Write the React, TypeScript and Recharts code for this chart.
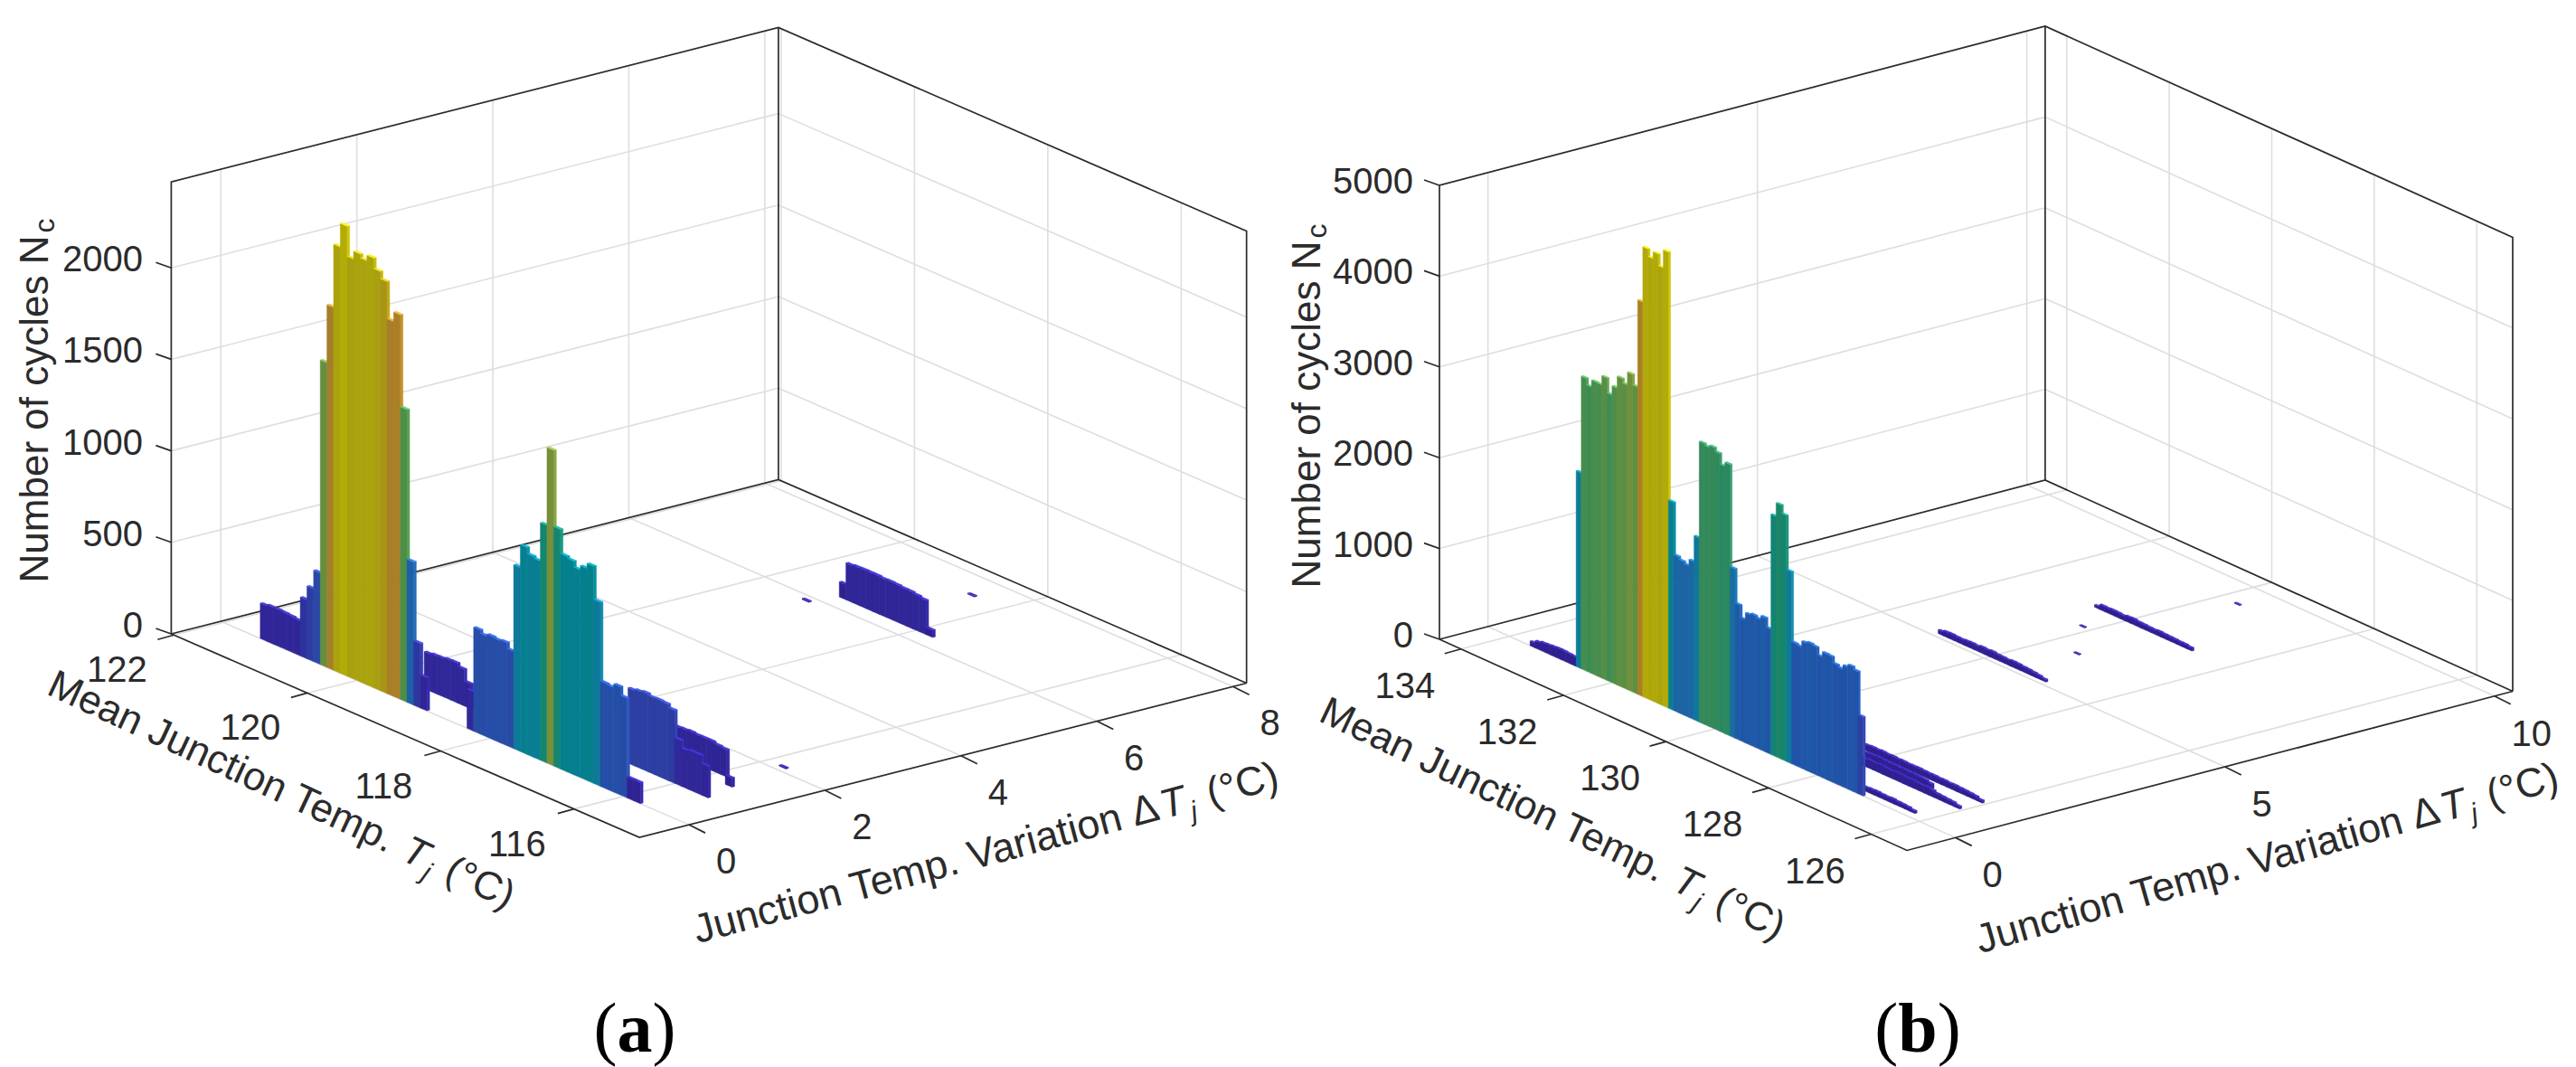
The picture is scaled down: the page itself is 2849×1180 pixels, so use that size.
import { Scatter, ScatterChart, XAxis, YAxis } from "recharts";

// ---- values: cycle counts per 0.1 degC bin, one list per row ----
const aFrontLeft = [193, 200, 200, 198, 195, 190, 321, 397, 499, 1664, 1982, 2328, 2458, 2294, 2337, 2316, 2347, 2290, 2250, 2048, 2100, 1598, 781, 352, 180];
const aFrontRight = [214, 568, 550, 562, 557, 562, 530, 1005, 1130, 1097, 1087, 1298, 1725, 1308, 1176, 1166, 1133, 1158, 1186, 1005, 575, 570, 591, 544, 115, 115];
const aRowB = [202, 208, 210, 216, 217, 200, 136];
const aRowC = [412, 420, 427, 418, 420, 417, 399, 250, 209, 216, 216, 173];
const aRowD = [158, 160, 163, 160, 161, 161, 153, 148];
const aBack = [83, 202, 206, 208, 208, 208, 204, 206, 204, 200, 200, 194, 187, 40];

const bFrontLeft = [50, 80, 95, 100, 105, 110, 110, 105, 100];
const bFront = [2156, 3223, 3152, 3230, 3226, 3329, 3166, 3269, 3400, 3354, 3497, 3383, 4343, 4955, 4873, 4951, 4823, 5023, 2291, 1718, 1690, 1668, 1739, 2027, 3091, 3073, 3098, 3059, 2942, 2988, 1864, 1490, 1355, 1433, 1451, 1433, 1476, 1377, 2646, 2796, 2707, 2113, 1345, 1334, 1401, 1419, 1409, 1327, 1384, 1380, 1316, 1295, 1341, 1373, 1345, 870];
const bStrip1 = [48, 52, 55, 50, 48, 52, 46, 44, 40, 28];
const bStrip2 = [90, 92, 88, 95, 90, 86, 92, 90, 85, 88, 82, 80, 84, 76, 58, 54, 50, 46, 30];
const bStrip3 = [68, 72, 70, 75, 70, 72, 68, 70, 66, 68, 70, 66, 64, 66, 62, 64, 60, 62, 58, 56, 52, 46, 28];
const bStrip4 = [80, 82, 86, 84, 80, 82, 78, 80, 76, 78, 74, 70, 55];
const bStrip5 = [42, 58, 60, 56, 54, 60, 64, 58, 70, 66, 72, 64, 62, 58, 66, 64, 56, 54, 48, 40, 26];
const bStrip6 = [26, 56, 54, 58, 56, 50, 62, 64, 56, 54, 50, 48, 54, 50, 48, 46, 42, 42, 34];

type Row = { dT: number; tmStart: number; counts: number[] };

const aRows: Row[] = [
  { dT: 0, tmStart: 121.4, counts: aFrontLeft },
  { dT: 0, tmStart: 118.3, counts: aFrontRight },
  { dT: 0.45, tmStart: 119.4, counts: aRowB },
  { dT: 0.75, tmStart: 116.65, counts: aRowC },
  { dT: 1.37, tmStart: 116.6, counts: aRowD },
  { dT: 1.2, tmStart: 115.65, counts: [50] },
  { dT: 6.26, tmStart: 119.1, counts: aBack },
  { dT: 5.86, tmStart: 119.25, counts: [6] },
  { dT: 2.09, tmStart: 115.75, counts: [6] },
  { dT: 7.51, tmStart: 118.45, counts: [6] },
];

const bRows: Row[] = [
  { dT: 0, tmStart: 133.55, counts: bFrontLeft },
  { dT: 0, tmStart: 132.65, counts: bFront },
  { dT: 0.15, tmStart: 127.2, counts: bStrip1 },
  { dT: 0.79, tmStart: 127.9, counts: bStrip2 },
  { dT: 1.21, tmStart: 128.3, counts: bStrip3 },
  { dT: 0.99, tmStart: 128.05, counts: bStrip4 },
  { dT: 5.1, tmStart: 130.95, counts: bStrip5 },
  { dT: 7.62, tmStart: 130.55, counts: bStrip6 },
  { dT: 6.96, tmStart: 130.15, counts: [8] },
  { dT: 6.19, tmStart: 129.45, counts: [8] },
  { dT: 9.36, tmStart: 129.65, counts: [8] },
];

const aTmTicks = [122, 120, 118, 116];
const aDtTicks = [0, 2, 4, 6, 8];
const aNcTicks = [0, 500, 1000, 1500, 2000];
const bTmTicks = [134, 132, 130, 128, 126];
const bDtTicks = [0, 5, 10];
const bNcTicks = [0, 1000, 2000, 3000, 4000, 5000];

// height colours as they look after the figure's lighting
const ramp: [number, string][] = [
  [0, "#2e1e8c"], [0.1, "#30289a"], [0.2, "#2a48a6"], [0.27, "#2055a8"], [0.36, "#1a6aa2"],
  [0.42, "#0c7c98"], [0.48, "#04808c"], [0.53, "#148570"], [0.61, "#33895a"], [0.65, "#4f8e48"],
  [0.7, "#76903a"], [0.78, "#a0802c"], [0.85, "#aa7e26"], [0.9, "#a88a1a"], [0.93, "#a8a010"], [1, "#b4ac06"],
];

const hexRgb = (h: string) => [1, 3, 5].map((i) => parseInt(h.slice(i, i + 2), 16));

function rampColor(f: number, gain = 1) {
  const t = Math.min(1, Math.max(0, f));
  let i = 0;
  while (i < ramp.length - 2 && t > ramp[i + 1][0]) i++;
  const [f0, c0] = ramp[i];
  const [f1, c1] = ramp[i + 1];
  const k = (t - f0) / (f1 - f0);
  const a = hexRgb(c0);
  const b = hexRgb(c1);
  const rgb = a.map((v, j) => Math.min(255, Math.round((v + (b[j] - v) * k) * gain)));
  return `rgb(${rgb.join(",")})`;
}

const FONT = '"Liberation Sans", Arial, sans-serif';
const INK = "#2b2b2b";
const GRID = "#dedede";
const BAR_W = 0.1;
const BAR_D = 0.04;

type Geo = {
  left: number; width: number;
  lx: number; ly: number;
  tmMax: number; tmMin: number; dtMin: number; dtMax: number; ncMax: number;
  tmX: number; tmY: number; dtX: number; dtY: number; kz: number;
  peak: number;
  zLabelX: number;
  zLabelDy: number;
  tmLabel: [number, number]; dtLabel: [number, number];
  ncTitle: [number, number];
  tmTitle: [number, number, number];
  dtTitle: [number, number, number];
  caption: [number, number]; mark: string;
};

const geoA: Geo = {
  left: 0, width: 1424, lx: 189.4, ly: 701,
  tmMax: 122.04, tmMin: 115.02, dtMin: -0.73, dtMax: 8.2, ncMax: 2470,
  tmX: 73.75, tmY: 32.06, dtX: 75.2, dtY: 19.1, kz: 0.2024, peak: 2460,
  zLabelX: 158, zLabelDy: -10, tmLabel: [-63, 38], dtLabel: [41, 40],
  ncTitle: [37, 443],
  tmTitle: [312, 872, 25], dtTitle: [1090, 942, -15],
  caption: [702, 1136], mark: "a",
};

const geoB: Geo = {
  left: 1380, width: 1469, lx: 1592, ly: 707,
  tmMax: 134.42, tmMin: 125.3, dtMin: -0.9, dtMax: 10.34, ncMax: 5000,
  tmX: 56.7, tmY: 25.6, dtX: 59.6, dtY: 15.66, kz: 0.1004, peak: 5050,
  zLabelX: 1563, zLabelDy: -5, tmLabel: [-62, 40], dtLabel: [41, 41],
  ncTitle: [1444, 449],
  tmTitle: [1718, 904, 25.5], dtTitle: [2507, 948, -15.9],
  caption: [2121, 1136], mark: "b",
};

function Panel({ geo, rows, tmTicks, dtTicks, ncTicks }: { geo: Geo; rows: Row[]; tmTicks: number[]; dtTicks: number[]; ncTicks: number[] }) {
  const project = (tm: number, dT: number, nc: number) => ({
    sx: geo.lx - geo.left + (geo.tmMax - tm) * geo.tmX + (dT - geo.dtMin) * geo.dtX,
    sy: geo.ly + (geo.tmMax - tm) * geo.tmY - (dT - geo.dtMin) * geo.dtY - nc * geo.kz,
  });
  const { tmMax, tmMin, dtMin, dtMax, ncMax } = geo;

  // bars, far ones first so the near ones paint over them
  const bars = rows
    .flatMap((row) =>
      row.counts.map((nc, i) => {
        const tm = row.tmStart - i * BAR_W;
        return { ...project(tm + BAR_W / 2, row.dT, nc), tm, dT: row.dT, nc };
      }),
    )
    .sort((p, q) => q.dT - p.dT || q.tm - p.tm);

  const BarShape = (p: any) => {
    const { cx, cy, payload } = p;
    const ux = geo.tmX * BAR_W;
    const uy = geo.tmY * BAR_W;
    const vx = geo.dtX * BAR_D;
    const vy = -geo.dtY * BAR_D;
    const h = payload.nc * geo.kz;
    const f = payload.nc / geo.peak;
    const face = rampColor(f);
    const side = rampColor(f, 1.15);
    const top = rampColor(f, 1.45);
    const poly = (pts: number[][]) => pts.map((q) => q.join(",")).join(" ");
    return (
      <g>
        <polygon points={poly([[cx + ux, cy + uy], [cx + ux + vx, cy + uy + vy], [cx + ux + vx, cy + uy + vy + h], [cx + ux, cy + uy + h]])} fill={side} stroke={side} strokeWidth={0.4} />
        <polygon points={poly([[cx, cy], [cx + ux, cy + uy], [cx + ux, cy + uy + h], [cx, cy + h]])} fill={face} stroke={face} strokeWidth={0.4} />
        <polygon points={poly([[cx, cy], [cx + ux, cy + uy], [cx + ux + vx, cy + uy + vy], [cx + vx, cy + vy]])} fill={top} stroke={top} strokeWidth={0.4} />
      </g>
    );
  };

  const gridLines = [
    ...ncTicks.filter((z) => z > 0).flatMap((z) => [
      [project(tmMax, dtMin, z), project(tmMax, dtMax, z)],
      [project(tmMax, dtMax, z), project(tmMin, dtMax, z)],
    ]),
    ...dtTicks.flatMap((d) => [
      [project(tmMax, d, 0), project(tmMax, d, ncMax)],
      [project(tmMin, d, 0), project(tmMax, d, 0)],
    ]),
    ...tmTicks.flatMap((t) => [
      [project(t, dtMax, 0), project(t, dtMax, ncMax)],
      [project(t, dtMin, 0), project(t, dtMax, 0)],
    ]),
  ];

  const boxLines = [
    [project(tmMax, dtMin, 0), project(tmMax, dtMin, ncMax), project(tmMax, dtMax, ncMax), project(tmMin, dtMax, ncMax), project(tmMin, dtMax, 0)],
    [project(tmMax, dtMax, ncMax), project(tmMax, dtMax, 0)],
    [project(tmMax, dtMin, 0), project(tmMax, dtMax, 0), project(tmMin, dtMax, 0)],
    [project(tmMax, dtMin, 0), project(tmMin, dtMin, 0), project(tmMin, dtMax, 0)],
  ];

  const off = (p: { sx: number; sy: number }, dx: number, dy: number) => ({ sx: p.sx + dx, sy: p.sy + dy });

  const tickLines = [
    ...ncTicks.map((z) => [project(tmMax, dtMin, z), off(project(tmMax, dtMin, z), -17, -6)]),
    ...tmTicks.map((t) => [project(t, dtMin, 0), off(project(t, dtMin, 0), -18, 5)]),
    ...dtTicks.map((d) => [project(tmMin, d, 0), off(project(tmMin, d, 0), 18, 9)]),
  ];

  const labelPoints = [
    ...ncTicks.map((z) => ({ sx: geo.zLabelX - geo.left, sy: project(tmMax, dtMin, z).sy + geo.zLabelDy, text: String(z), anchor: "end" })),
    ...tmTicks.map((t) => ({ ...off(project(t, dtMin, 0), geo.tmLabel[0], geo.tmLabel[1]), text: String(t), anchor: "middle" })),
    ...dtTicks.map((d) => ({ ...off(project(tmMin, d, 0), geo.dtLabel[0], geo.dtLabel[1]), text: String(d), anchor: "middle" })),
  ];

  const TickLabel = (p: any) => (
    <text x={p.cx} y={p.cy} textAnchor={p.payload.anchor} dominantBaseline="central" fontFamily={FONT} fontSize={40} fill={INK}>
      {p.payload.text}
    </text>
  );

  const lineSeries = (key: string, lines: { sx: number; sy: number }[][], stroke: string, strokeWidth: number) =>
    lines.map((pts, i) => (
      <Scatter key={`${key}-${i}`} data={pts} line={{ stroke, strokeWidth }} lineType="joint" shape={() => <g />} isAnimationActive={false} />
    ));

  const titleAt = (key: string, sx: number, sy: number, rot: number, body: any, size: number) => (
    <Scatter
      key={key}
      data={[{ sx: sx - geo.left, sy }]}
      isAnimationActive={false}
      shape={(p: any) => (
        <text x={p.cx} y={p.cy} textAnchor="middle" dominantBaseline="central" transform={`rotate(${rot} ${p.cx} ${p.cy})`} fontFamily={FONT} fontSize={size} fill={INK}>
          {body}
        </text>
      )}
    />
  );

  const tempSymbol = (
    <>
      <tspan fontStyle="italic" dx={3}>T</tspan>
      <tspan dy={15} dx={3} fontSize={30} fontStyle="italic">j</tspan>
      <tspan dy={-15} dx={16}>(°C)</tspan>
    </>
  );

  return (
    <div style={{ position: "absolute", left: geo.left, top: 0 }}>
      <ScatterChart width={geo.width} height={1180} margin={{ top: 0, right: 0, bottom: 0, left: 0 }}>
        <XAxis type="number" dataKey="sx" domain={[0, geo.width]} hide allowDataOverflow />
        <YAxis type="number" dataKey="sy" domain={[0, 1180]} reversed hide allowDataOverflow />
        {lineSeries("grid", gridLines, GRID, 1.6)}
        {lineSeries("box", boxLines, INK, 1.7)}
        {lineSeries("tick", tickLines, INK, 1.7)}
        <Scatter data={bars} shape={BarShape} isAnimationActive={false} />
        <Scatter data={labelPoints} shape={TickLabel} isAnimationActive={false} />
        {titleAt("nc", geo.ncTitle[0], geo.ncTitle[1], -90, (
          <>
            Number of cycles N
            <tspan dy={12} dx={3} fontSize={32}>c</tspan>
          </>
        ), 44)}
        {titleAt("tm", geo.tmTitle[0], geo.tmTitle[1], geo.tmTitle[2], (
          <>
            Mean Junction Temp. {tempSymbol}
          </>
        ), 44)}
        {titleAt("dt", geo.dtTitle[0], geo.dtTitle[1], geo.dtTitle[2], (
          <>
            Junction Temp. Variation Δ{tempSymbol}
          </>
        ), 45)}
        <Scatter
          data={[{ sx: geo.caption[0] - geo.left, sy: geo.caption[1] }]}
          isAnimationActive={false}
          shape={(p: any) => (
            <text x={p.cx} y={p.cy} textAnchor="middle" dominantBaseline="central" fontFamily='"Liberation Serif", serif' fontSize={78} fill="#000">
              (<tspan fontWeight="bold">{geo.mark}</tspan>)
            </text>
          )}
        />
      </ScatterChart>
    </div>
  );
}

export default function App() {
  return (
    <div style={{ position: "absolute", left: 0, top: 0, width: 2849, height: 1180, background: "#fff", overflow: "hidden" }}>
      <Panel geo={geoA} rows={aRows} tmTicks={aTmTicks} dtTicks={aDtTicks} ncTicks={aNcTicks} />
      <Panel geo={geoB} rows={bRows} tmTicks={bTmTicks} dtTicks={bDtTicks} ncTicks={bNcTicks} />
    </div>
  );
}
